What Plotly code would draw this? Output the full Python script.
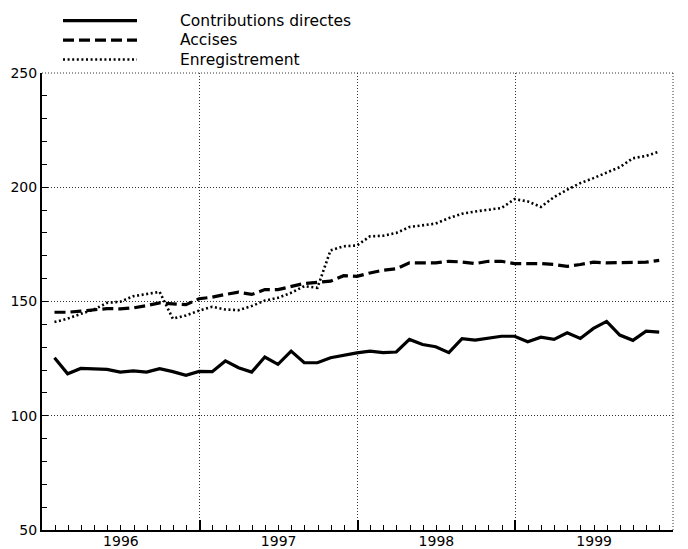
import plotly.graph_objects as go

# Monthly data, Jan 1996 .. Nov 1999
year_labels = ["1996", "1997", "1998", "1999"]
series_names = ["Contributions directes", "Accises", "Enregistrement"]

contributions = [125.4, 118.4, 120.7, 120.5, 120.3, 119.1, 119.6, 119.1, 120.6, 119.3, 117.7, 119.4,
                 119.3, 124.0, 121.0, 119.1, 125.7, 122.5, 128.3, 123.2, 123.2, 125.4, 126.5, 127.5,
                 128.3, 127.6, 127.9, 133.4, 131.2, 130.2, 127.6, 133.7, 133.1, 133.8, 134.8, 134.8,
                 132.4, 134.4, 133.4, 136.3, 133.8, 138.2, 141.3, 135.3, 133.0, 137.0, 136.6]

accises = [145.3, 145.3, 145.8, 146.5, 146.9, 146.8, 147.2, 148.2, 149.4, 149.0, 148.6, 151.2,
           151.9, 153.1, 154.1, 153.1, 155.2, 155.2, 156.4, 157.9, 158.4, 158.9, 161.3, 161.0,
           162.5, 163.7, 164.3, 166.9, 166.9, 166.9, 167.6, 167.3, 166.6, 167.6, 167.6, 166.6,
           166.6, 166.6, 166.2, 165.4, 166.2, 167.2, 166.9, 166.9, 166.9, 167.2, 168.0]

enregistrement = [141.0, 142.5, 144.6, 146.5, 149.4, 149.9, 152.3, 153.4, 154.2, 142.5, 143.9, 146.0,
                  147.7, 146.5, 146.2, 148.0, 150.4, 151.6, 153.8, 156.7, 156.0, 172.4, 174.2, 174.5,
                  178.5, 178.8, 180.0, 182.6, 183.2, 184.1, 186.5, 188.4, 189.4, 190.2, 190.9, 194.8,
                  193.8, 191.4, 195.7, 198.9, 201.8, 204.0, 206.5, 208.8, 212.7, 213.7, 215.6]

y_ticks = [50, 100, 150, 200, 250]

months = [i + 0.95 for i in range(len(contributions))]  # month-end positions on a month axis

FONT = "DejaVu Sans"
TICK_SIZE = 14
styles = [
    dict(color="black", width=3.2, dash="solid"),
    dict(color="black", width=3.2, dash="11px,5px"),
    dict(color="black", width=2.6, dash="2px,2.6px"),
]

fig = go.Figure()
for name, vals, st in zip(series_names, [contributions, accises, enregistrement], styles):
    fig.add_trace(go.Scatter(x=months, y=vals, mode="lines", name=name,
                             line=dict(color=st["color"], width=st["width"], dash=st["dash"]),
                             showlegend=False, hoverinfo="skip"))

# empty trace to anchor the helper overlay axis
fig.add_trace(go.Scatter(x=[], y=[], xaxis="x2", yaxis="y", showlegend=False))

grid_col = "#333333"
grid_dash = "1px,2px"

W, H = 688, 549
OFF = 8  # page offset of the figure in the browser
ML, MR, MT, MB = 34, 23, 65, 26.5

fig.update_layout(
    width=W, height=H,
    margin=dict(l=ML, r=MR, t=MT, b=MB, autoexpand=False),
    paper_bgcolor="white", plot_bgcolor="white",
    font=dict(family=FONT, size=TICK_SIZE, color="black"),
    xaxis=dict(range=[0, 48], tickmode="array", tickvals=[6, 18, 30, 42], ticktext=year_labels,
               ticks="", showgrid=False, zeroline=False, showline=True, linecolor="black",
               linewidth=2, automargin=False, ticklabelstandoff=-3,
               tickfont=dict(family=FONT, size=TICK_SIZE, color="black"), fixedrange=True),
    xaxis2=dict(range=[0, 48], overlaying="x", anchor="y", side="bottom", tickmode="array",
                tickvals=[12, 24, 36], ticks="inside", ticklen=10, tickwidth=1.5, tickcolor="black",
                showticklabels=False, showgrid=True, gridcolor=grid_col, gridwidth=1, griddash=grid_dash,
                zeroline=False, showline=False, automargin=False,
                minor=dict(tickvals=list(range(1, 48)), ticks="inside", ticklen=5, tickwidth=1.3,
                           tickcolor="black", showgrid=False)),
    yaxis=dict(range=[50, 250], tickmode="array", tickvals=y_ticks, ticks="inside", ticklen=6,
               tickwidth=1.3, tickcolor="black", showgrid=True, gridcolor=grid_col, gridwidth=1,
               griddash=grid_dash, zeroline=False, showline=True, linecolor="black", linewidth=2,
               automargin=False,
               tickfont=dict(family=FONT, size=TICK_SIZE, color="black"),
               minor=dict(tickvals=list(range(60, 250, 10)), ticks="inside", ticklen=5,
                          tickwidth=1.3, tickcolor="black", showgrid=False)),
    showlegend=False,
)

# dotted top and right frame
fig.add_shape(type="line", xref="paper", yref="paper", x0=0, x1=1, y0=1, y1=1,
              line=dict(color=grid_col, width=1, dash=grid_dash))
fig.add_shape(type="line", xref="paper", yref="paper", x0=1, x1=1, y0=0, y1=1,
              line=dict(color=grid_col, width=1, dash=grid_dash))

# manual legend at the top-left (positions given in screenshot pixels)
plot_w = W - ML - MR
plot_h = H - MT - MB
def px_x(px):
    return (px - OFF - ML) / plot_w
def px_y(py):
    return (H - MB - (py - OFF)) / plot_h

rows = [20.5, 40, 59.5]
for name, st, ry in zip(series_names, styles, rows):
    fig.add_shape(type="line", xref="paper", yref="paper", x0=px_x(63), x1=px_x(137),
                  y0=px_y(ry), y1=px_y(ry),
                  line=dict(color="black", width=st["width"], dash=st["dash"]))
    fig.add_annotation(xref="paper", yref="paper", x=px_x(178), y=px_y(ry), text=name,
                       showarrow=False, xanchor="left", yanchor="middle",
                       font=dict(family=FONT, size=15.5, color="black"))

fig.write_html("out.html")
